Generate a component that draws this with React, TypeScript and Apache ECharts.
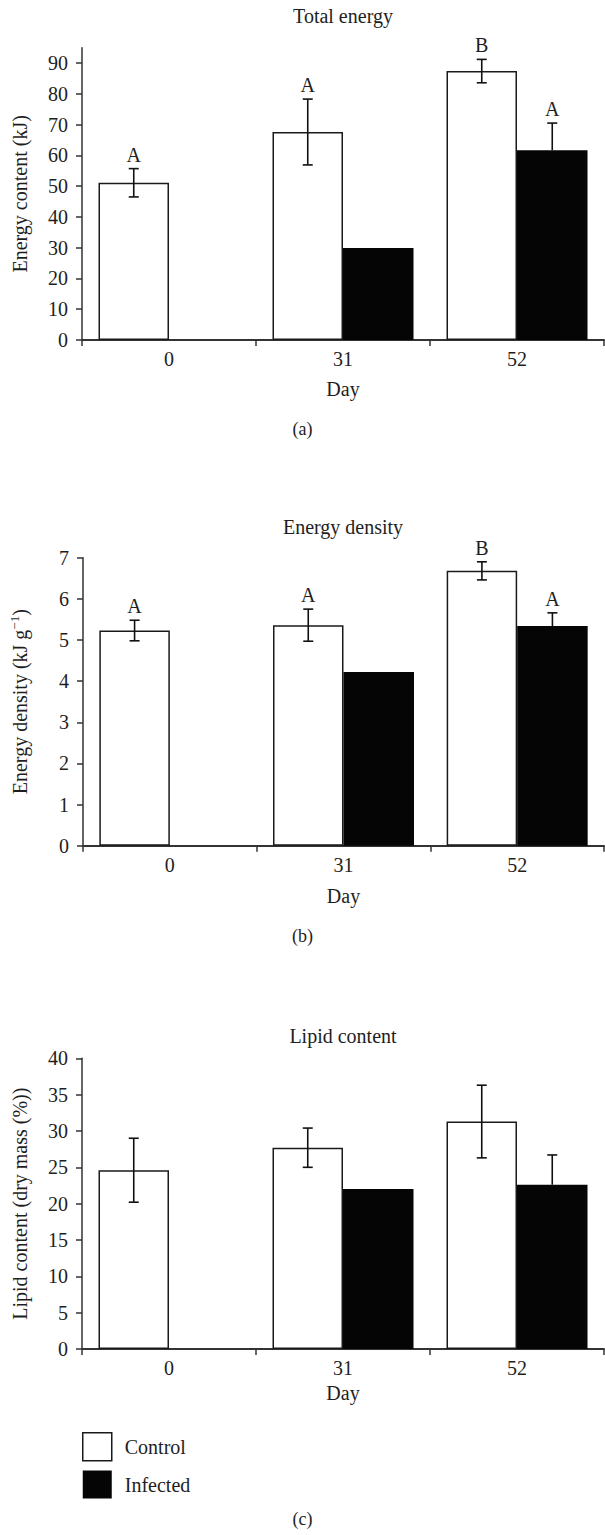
import React, { useEffect, useRef } from 'react';
import * as echarts from 'echarts';

const days = ['0', '31', '52'];

// Panel (a) Total energy
const energyControl = [51.1, 67.6, 87.4];
const energyControlErr = [4.6, 10.7, 3.8];
const energyInfected = [null, 29.9, 61.7];
const energyInfectedErr = [null, null, 8.8];
const energyControlLetters = ['A', 'A', 'B'];
const energyInfectedLetters = ['', '', 'A'];
const energyTicks = [0, 10, 20, 30, 40, 50, 60, 70, 80, 90];

// Panel (b) Energy density
const densityControl = [5.23, 5.36, 6.68];
const densityControlErr = [0.25, 0.39, 0.22];
const densityInfected = [null, 4.22, 5.34];
const densityInfectedErr = [null, null, 0.32];
const densityControlLetters = ['A', 'A', 'B'];
const densityInfectedLetters = ['', '', 'A'];
const densityTicks = [0, 1, 2, 3, 4, 5, 6, 7];

// Panel (c) Lipid content
const lipidControl = [24.6, 27.7, 31.3];
const lipidControlErr = [4.4, 2.7, 5.0];
const lipidInfected = [null, 22.0, 22.6];
const lipidInfectedErr = [null, null, 4.1];
const lipidControlLetters = ['', '', ''];
const lipidInfectedLetters = ['', '', ''];
const lipidTicks = [0, 5, 10, 15, 20, 25, 30, 35, 40];

const FONT = '"Liberation Serif", "Times New Roman", serif';
const TXT = '#1e1e1e';
const FS = 20;
const BAR_W = 70.5;

const panels = [
  {
    title: 'Total energy', tag: '(a)', yName: 'Energy content (kJ)', max: 95, ticks: energyTicks,
    control: energyControl, controlErr: energyControlErr, infected: energyInfected, infectedErr: energyInfectedErr,
    cLetters: energyControlLetters, iLetters: energyInfectedLetters,
    grid: { left: 82, top: 47.7, width: 522, height: 292.3 }, titleTop: 6, tagTop: 420, dayGap: 39,
  },
  {
    title: 'Energy density', tag: '(b)', yName: '{a|Energy density (kJ g}{s|−1}{a|)}', max: 7, ticks: densityTicks,
    control: densityControl, controlErr: densityControlErr, infected: densityInfected, infectedErr: densityInfectedErr,
    cLetters: densityControlLetters, iLetters: densityInfectedLetters,
    grid: { left: 82, top: 557.7, width: 522, height: 288 }, titleTop: 517, tagTop: 927, dayGap: 40,
  },
  {
    title: 'Lipid content', tag: '(c)', yName: 'Lipid content (dry mass (%))', max: 40, ticks: lipidTicks,
    control: lipidControl, controlErr: lipidControlErr, infected: lipidInfected, infectedErr: lipidInfectedErr,
    cLetters: lipidControlLetters, iLetters: lipidInfectedLetters,
    grid: { left: 82, top: 1058.3, width: 522, height: 290.7 }, titleTop: 1026, tagTop: 1510, dayGap: 34,
  },
];

function makeErrRender(letters: string[], side: number, full: boolean) {
  return (params: any, api: any) => {
    const cat = api.value(0);
    const mean = api.value(1);
    const err = api.value(2);
    const c = api.coord([cat, mean]);
    const x = c[0] + side * BAR_W / 2;
    const children: any[] = [];
    let topY = c[1];
    const ls = { stroke: '#111', lineWidth: 1.6 };
    if (err != null && !isNaN(err) && err > 0) {
      const hi = api.coord([cat, mean + err])[1];
      const lo = full ? api.coord([cat, mean - err])[1] : c[1];
      topY = hi;
      children.push({ type: 'line', shape: { x1: x, y1: hi, x2: x, y2: lo }, style: ls });
      children.push({ type: 'line', shape: { x1: x - 5, y1: hi, x2: x + 5, y2: hi }, style: ls });
      if (full) children.push({ type: 'line', shape: { x1: x - 5, y1: lo, x2: x + 5, y2: lo }, style: ls });
    }
    const letter = letters[params.dataIndex];
    if (letter) {
      children.push({
        type: 'text',
        style: { text: letter, x, y: topY - 4, align: 'center', verticalAlign: 'bottom', fontFamily: FONT, fontSize: FS, fill: TXT },
      });
    }
    return { type: 'group', children };
  };
}

export default function App() {
  const ref = useRef<HTMLDivElement>(null);
  useEffect(() => {
    if (!ref.current) return;
    const chart = echarts.init(ref.current, null, { renderer: 'svg' });
    const grids: any[] = [];
    const xAxes: any[] = [];
    const yAxes: any[] = [];
    const series: any[] = [];
    const titles: any[] = [];
    panels.forEach((p, i) => {
      grids.push({ ...p.grid, containLabel: false });
      titles.push({ text: p.title, left: 343, top: p.titleTop, textAlign: 'center', padding: 0,
        textStyle: { fontFamily: FONT, fontSize: FS, fontWeight: 'normal', color: TXT } });
      titles.push({ text: p.tag, left: 302.5, top: p.tagTop, textAlign: 'center', padding: 0,
        textStyle: { fontFamily: FONT, fontSize: 18, fontWeight: 'normal', color: TXT } });
      xAxes.push({
        type: 'category', gridIndex: i, data: days,
        axisLine: { lineStyle: { color: '#333', width: 2 } },
        axisTick: { show: true, alignWithLabel: false, length: 6, lineStyle: { color: '#333', width: 1.5 } },
        axisLabel: { fontFamily: FONT, fontSize: FS, color: TXT, margin: 9 },
        name: 'Day', nameLocation: 'middle', nameGap: p.dayGap,
        nameTextStyle: { fontFamily: FONT, fontSize: FS, color: TXT },
      });
      yAxes.push({
        type: 'value', gridIndex: i, min: 0, max: p.max,
        splitLine: { show: false },
        axisLine: { show: true, lineStyle: { color: '#333', width: 1.5 } },
        axisTick: { show: true, length: 6, customValues: p.ticks, lineStyle: { color: '#333', width: 1.5 } },
        axisLabel: { fontFamily: FONT, fontSize: FS, color: TXT, margin: 14, customValues: p.ticks },
        name: p.yName, nameLocation: 'middle', nameGap: 52,
        nameTextStyle: {
          fontFamily: FONT, fontSize: FS, color: TXT,
          rich: {
            a: { fontFamily: FONT, fontSize: FS, color: TXT, lineHeight: 23 },
            s: { fontFamily: FONT, fontSize: 13, color: TXT, verticalAlign: 'top', lineHeight: 23 },
          },
        },
      });
      series.push({
        name: 'Control', type: 'bar', xAxisIndex: i, yAxisIndex: i, data: p.control,
        barWidth: BAR_W, barGap: '0%',
        itemStyle: { color: '#ffffff', borderColor: '#1a1a1a', borderWidth: 1.5 },
      });
      series.push({
        name: 'Infected', type: 'bar', xAxisIndex: i, yAxisIndex: i, data: p.infected,
        barWidth: BAR_W, barGap: '0%',
        itemStyle: { color: '#050505', borderWidth: 0 },
      });
      series.push({
        type: 'custom', xAxisIndex: i, yAxisIndex: i, z: 5, silent: true,
        data: p.control.map((v, k) => [k, v, p.controlErr[k]]),
        renderItem: makeErrRender(p.cLetters, -1, true),
      });
      series.push({
        type: 'custom', xAxisIndex: i, yAxisIndex: i, z: 5, silent: true,
        data: p.infected.map((v, k) => [k, v == null ? NaN : v, p.infectedErr[k] == null ? NaN : p.infectedErr[k]]),
        renderItem: makeErrRender(p.iLetters, 1, false),
      });
    });
    chart.setOption({
      animation: false,
      backgroundColor: '#ffffff',
      title: titles,
      grid: grids,
      xAxis: xAxes,
      yAxis: yAxes,
      legend: {
        orient: 'vertical', left: 82, top: 1432, itemWidth: 29, itemHeight: 28, itemGap: 9,
        icon: 'rect', selectedMode: false, padding: 0,
        textStyle: { fontFamily: FONT, fontSize: FS, color: TXT, padding: [0, 0, 0, 8] },
        data: [
          { name: 'Control', itemStyle: { color: '#ffffff', borderColor: '#1a1a1a', borderWidth: 1.5 } },
          { name: 'Infected', itemStyle: { color: '#050505', borderWidth: 0 } },
        ],
      },
      series,
    });
    return () => chart.dispose();
  }, []);
  return <div ref={ref} style={{ position: 'absolute', left: 0, top: 0, width: 605, height: 1535 }} />;
}
